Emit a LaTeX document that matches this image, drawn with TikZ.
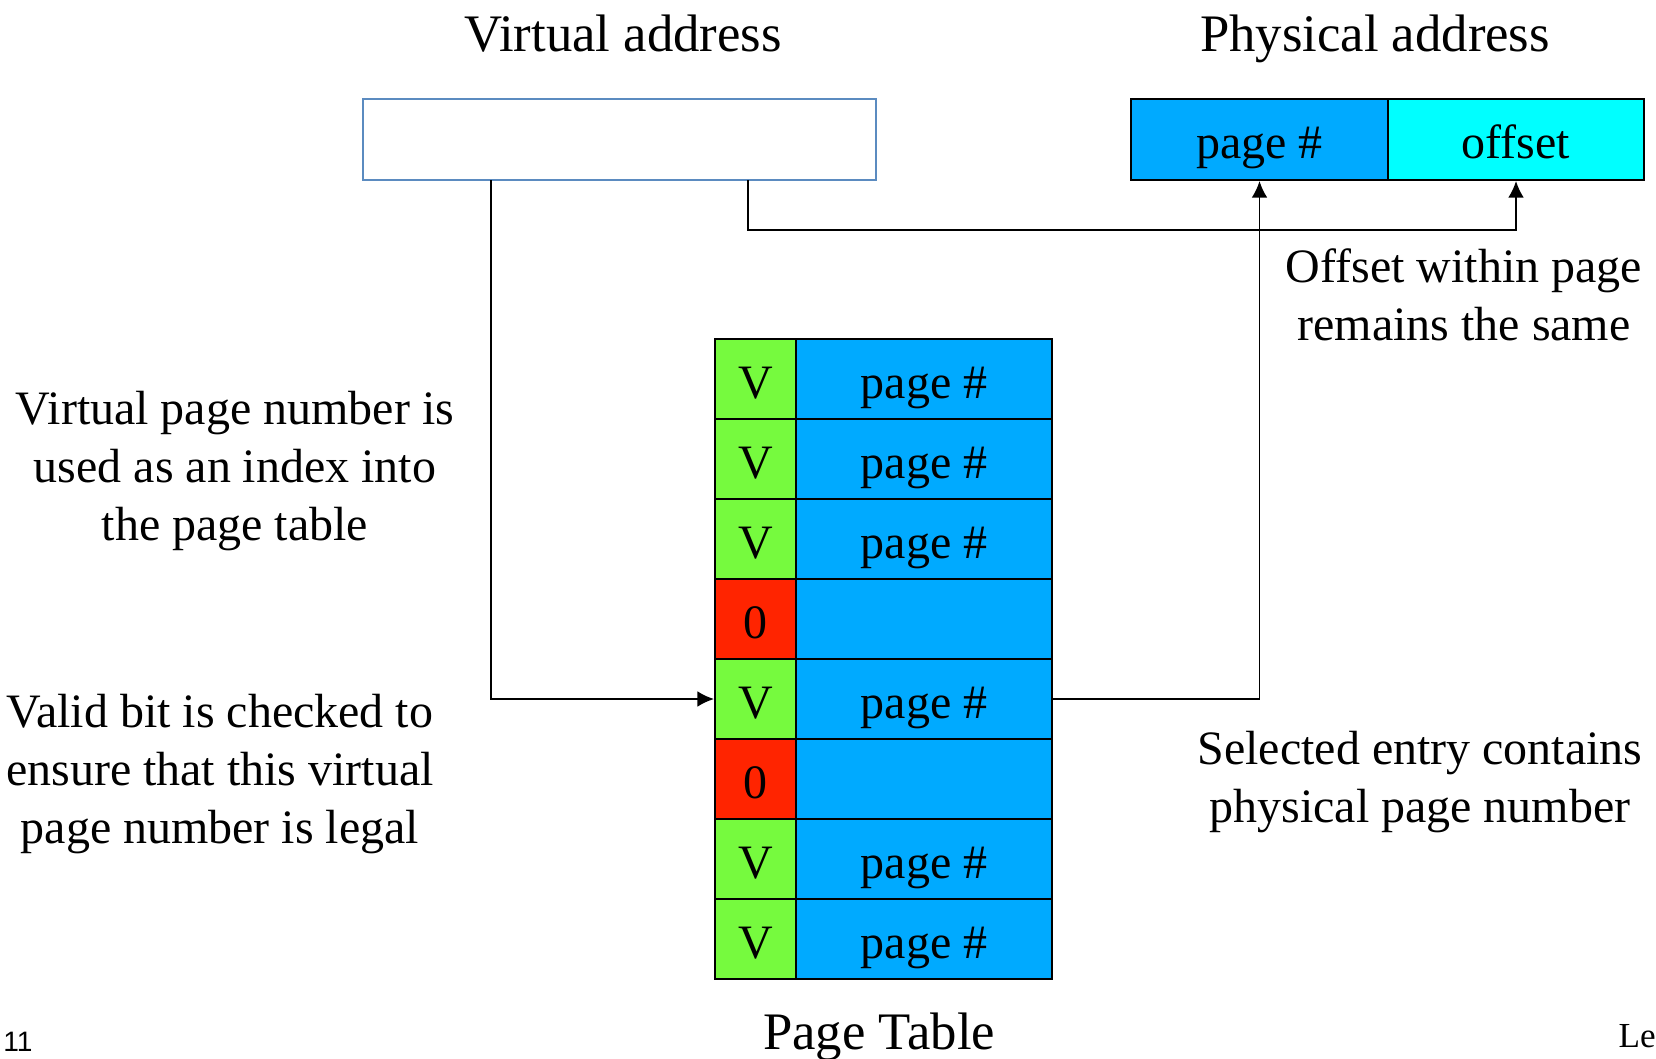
\documentclass[tikz,border=0pt]{standalone}
\usepackage{fontspec}
\setmainfont{Liberation Serif}
\newfontfamily\slidenum{Liberation Sans}
\usepackage{tikz}
\usepackage{xcolor}
\usetikzlibrary{arrows.meta}

\definecolor{pgblue}{RGB}{0,170,255}
\definecolor{offcyan}{RGB}{0,255,255}
\definecolor{vgreen}{RGB}{118,250,62}
\definecolor{bred}{RGB}{255,36,0}
\definecolor{vaedge}{RGB}{91,139,192}

\newcommand{\bigtxt}{\fontsize{30}{34}\selectfont}
\newcommand{\midtxt}{\fontsize{27.3}{33}\selectfont}

\begin{document}
\begin{tikzpicture}[
  cell/.style={draw=black, line width=1.1pt, inner sep=0pt, minimum height=1.6cm, font=\midtxt,
    text height=22pt, text depth=0pt},
  vcell/.style={cell, fill=vgreen, minimum width=1.62cm},
  ocell/.style={cell, fill=bred, minimum width=1.62cm},
  pcell/.style={cell, fill=pgblue, minimum width=5.12cm},
  lbl/.style={align=center, font=\midtxt},
  ttl/.style={font=\bigtxt, anchor=base},
  wire/.style={line width=1.1pt},
  >={Latex[length=9.5pt,width=9pt]}]

\useasboundingbox (0,0) rectangle (33.12,-21.16);

% addresses
\node[ttl] (vat) at (12.46,-1.03) {Virtual address};
\node[ttl] (pat) at (27.5,-1.03) {Physical address};
\node[draw=vaedge, line width=1.2pt, minimum width=10.26cm, minimum height=1.62cm] (va) at (12.39,-2.79) {};
\node[cell, fill=pgblue, minimum width=5.14cm, minimum height=1.62cm] (pp) at (25.19,-2.79) {page \#};
\node[cell, fill=offcyan, minimum width=5.12cm, minimum height=1.62cm] (po) at (30.32,-2.79) {offset};

% page table
\node[vcell] (v1) at (15.11,-7.58) {V};
\node[pcell] (p1) at (18.48,-7.58) {page \#};
\node[vcell] (v2) at (15.11,-9.18) {V};
\node[pcell] (p2) at (18.48,-9.18) {page \#};
\node[vcell] (v3) at (15.11,-10.78) {V};
\node[pcell] (p3) at (18.48,-10.78) {page \#};
\node[ocell] (v4) at (15.11,-12.38) {0};
\node[pcell] (p4) at (18.48,-12.38) {};
\node[vcell] (v5) at (15.11,-13.98) {V};
\node[pcell] (p5) at (18.48,-13.98) {page \#};
\node[ocell] (v6) at (15.11,-15.58) {0};
\node[pcell] (p6) at (18.48,-15.58) {};
\node[vcell] (v7) at (15.11,-17.18) {V};
\node[pcell] (p7) at (18.48,-17.18) {page \#};
\node[vcell] (v8) at (15.11,-18.78) {V};
\node[pcell] (p8) at (18.48,-18.78) {page \#};
\node[ttl] (ptt) at (17.58,-20.98) {Page Table};

% notes
\node[lbl] (offnote) at (29.28,-5.9) {Offset within page\\remains the same};
\node[lbl] (idxnote) at (4.7,-9.42) {Virtual page number is\\used as an index into\\the page table};
\node[lbl] (validnote) at (4.4,-15.48) {Valid bit is checked to\\ensure that this virtual\\page number is legal};
\node[lbl] (selnote) at (28.4,-15.64) {Selected entry contains\\physical page number};
\node[inner sep=0pt] (num) at (0.36,-20.84) {\slidenum\fontsize{16}{18}\selectfont 11};
\node[anchor=east, inner sep=0pt] (foot) at (33.12,-20.72) {\fontsize{20}{22}\selectfont Le};

% connectors
\coordinate (vpn) at (9.82,-3.6);
\coordinate (voff) at (14.96,-3.6);
\draw[wire,->] (vpn) |- (v5.west);
\draw[wire,->] (voff) -- (14.96,-4.6) -| (po.south);
\draw[wire,->] (p5.east) -| (pp.south);

\end{tikzpicture}
\end{document}
